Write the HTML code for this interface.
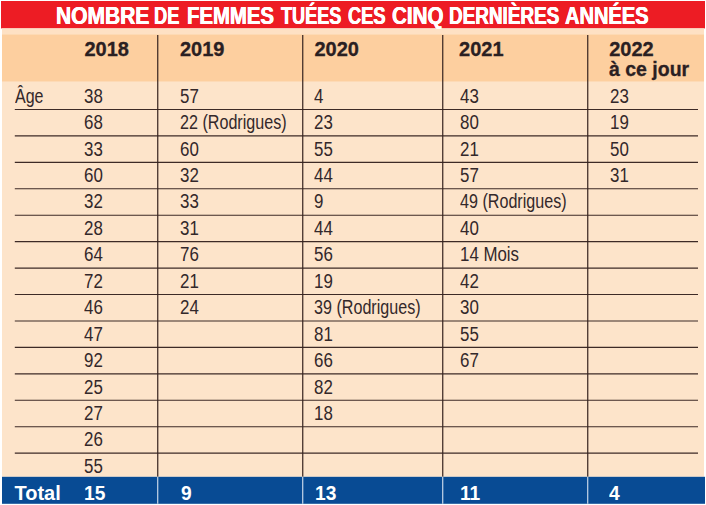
<!DOCTYPE html>
<html><head><meta charset="utf-8"><title>Nombre de femmes tuées</title>
<style>
html,body{margin:0;padding:0;background:#fff;}
body{width:706px;height:505px;position:relative;overflow:hidden;font-family:"Liberation Sans",sans-serif;color:#33282a;}
.a{position:absolute;}
.t{position:absolute;white-space:nowrap;transform-origin:0 0;line-height:1;}
.r{font-size:20px;transform:scaleX(0.8);}
.b{font-weight:bold;}
.hd{-webkit-text-stroke:0.3px #2a2022;color:#2a2022;}
.hl{position:absolute;left:14.5px;width:683.5px;height:1.2px;background:#4a3530;}
.vl{position:absolute;width:1.3px;background:#3a2a28;}
.wl{position:absolute;width:1.1px;background:#e6edf6;}
</style></head><body>

<svg class="a" style="left:0;top:0" width="706" height="505" viewBox="0 0 706 505">
<rect x="1" y="1" width="704" height="27.4" fill="#ed1c24"/>
<rect x="2" y="28.4" width="702" height="6" fill="#fee1c4"/>
<rect x="2" y="34.3" width="702" height="47.5" fill="#fdcf9f"/>
<rect x="2" y="81.8" width="702" height="395" fill="#fde4ca"/>
<rect x="2" y="476.8" width="703" height="27" fill="#084b94"/>
<line x1="14.8" x2="698" y1="109.45" y2="109.45" stroke="#3d2a26" stroke-width="1.15"/>
<line x1="14.8" x2="698" y1="135.89" y2="135.89" stroke="#3d2a26" stroke-width="1.15"/>
<line x1="14.8" x2="698" y1="162.33" y2="162.33" stroke="#3d2a26" stroke-width="1.15"/>
<line x1="14.8" x2="698" y1="188.77" y2="188.77" stroke="#3d2a26" stroke-width="1.15"/>
<line x1="14.8" x2="698" y1="215.21" y2="215.21" stroke="#3d2a26" stroke-width="1.15"/>
<line x1="14.8" x2="698" y1="241.65" y2="241.65" stroke="#3d2a26" stroke-width="1.15"/>
<line x1="14.8" x2="698" y1="268.09" y2="268.09" stroke="#3d2a26" stroke-width="1.15"/>
<line x1="14.8" x2="698" y1="294.53" y2="294.53" stroke="#3d2a26" stroke-width="1.15"/>
<line x1="14.8" x2="698" y1="320.97" y2="320.97" stroke="#3d2a26" stroke-width="1.15"/>
<line x1="14.8" x2="698" y1="347.41" y2="347.41" stroke="#3d2a26" stroke-width="1.15"/>
<line x1="14.8" x2="698" y1="373.85" y2="373.85" stroke="#3d2a26" stroke-width="1.15"/>
<line x1="14.8" x2="698" y1="400.29" y2="400.29" stroke="#3d2a26" stroke-width="1.15"/>
<line x1="14.8" x2="698" y1="426.73" y2="426.73" stroke="#3d2a26" stroke-width="1.15"/>
<line x1="14.8" x2="698" y1="453.17" y2="453.17" stroke="#3d2a26" stroke-width="1.15"/>
<line x1="157.75" x2="157.75" y1="35" y2="476.8" stroke="#35231f" stroke-width="1.2"/>
<line x1="157.75" x2="157.75" y1="476.8" y2="503.8" stroke="#e3ebf5" stroke-width="1.05"/>
<line x1="302.75" x2="302.75" y1="35" y2="476.8" stroke="#35231f" stroke-width="1.2"/>
<line x1="302.75" x2="302.75" y1="476.8" y2="503.8" stroke="#e3ebf5" stroke-width="1.05"/>
<line x1="442.75" x2="442.75" y1="35" y2="476.8" stroke="#35231f" stroke-width="1.2"/>
<line x1="442.75" x2="442.75" y1="476.8" y2="503.8" stroke="#e3ebf5" stroke-width="1.05"/>
<line x1="587.75" x2="587.75" y1="35" y2="476.8" stroke="#35231f" stroke-width="1.2"/>
<line x1="587.75" x2="587.75" y1="476.8" y2="503.8" stroke="#e3ebf5" stroke-width="1.05"/>
</svg>
<div class="t b" style="left:56.49px;top:4.1px;font-size:24px;color:#fff;text-shadow:0.4px 0 0 #fff,-0.4px 0 0 #fff;transform:scaleX(0.8748);">NOMBRE</div>
<div class="t b" style="left:154.16px;top:4.1px;font-size:24px;color:#fff;text-shadow:0.4px 0 0 #fff,-0.4px 0 0 #fff;transform:scaleX(0.7613);">DE</div>
<div class="t b" style="left:186.93px;top:4.1px;font-size:24px;color:#fff;text-shadow:0.4px 0 0 #fff,-0.4px 0 0 #fff;transform:scaleX(0.8469);">FEMMES</div>
<div class="t b" style="left:281.41px;top:4.1px;font-size:24px;color:#fff;text-shadow:0.4px 0 0 #fff,-0.4px 0 0 #fff;transform:scaleX(0.7543);">TUÉES</div>
<div class="t b" style="left:348.24px;top:4.1px;font-size:24px;color:#fff;text-shadow:0.4px 0 0 #fff,-0.4px 0 0 #fff;transform:scaleX(0.7598);">CES</div>
<div class="t b" style="left:391.74px;top:4.1px;font-size:24px;color:#fff;text-shadow:0.4px 0 0 #fff,-0.4px 0 0 #fff;transform:scaleX(0.8586);">CINQ</div>
<div class="t b" style="left:449.32px;top:4.1px;font-size:24px;color:#fff;text-shadow:0.4px 0 0 #fff,-0.4px 0 0 #fff;transform:scaleX(0.7876);">DERNIÈRES</div>
<div class="t b" style="left:565.47px;top:4.1px;font-size:24px;color:#fff;text-shadow:0.4px 0 0 #fff,-0.4px 0 0 #fff;transform:scaleX(0.8356);">ANNÉES</div>
<div class="t b hd" style="left:84.4px;top:39.25px;font-size:20px;transform:scaleX(1.0);">2018</div>
<div class="t b hd" style="left:180.0px;top:39.25px;font-size:20px;transform:scaleX(1.0);">2019</div>
<div class="t b hd" style="left:314.4px;top:39.25px;font-size:20px;transform:scaleX(1.0);">2020</div>
<div class="t b hd" style="left:459.1px;top:39.25px;font-size:20px;transform:scaleX(1.0);">2021</div>
<div class="t b hd" style="left:609.2px;top:39.25px;font-size:20px;transform:scaleX(1.0);">2022</div>
<div class="t b hd" style="left:609.2px;top:59px;font-size:20px;transform:scaleX(0.974);">à ce jour</div>
<div class="t r" style="left:15px;top:85.7px;">Âge</div>
<div class="t r" style="left:84.1px;top:85.7px;transform:scaleX(0.845)">38</div>
<div class="t r" style="left:180.3px;top:85.7px;transform:scaleX(0.845)">57</div>
<div class="t r" style="left:314.3px;top:85.7px;transform:scaleX(0.845)">4</div>
<div class="t r" style="left:459.8px;top:85.7px;transform:scaleX(0.845)">43</div>
<div class="t r" style="left:610.0px;top:85.7px;transform:scaleX(0.845)">23</div>
<div class="t r" style="left:84.1px;top:112.1px;transform:scaleX(0.845)">68</div>
<div class="t r" style="left:180.3px;top:112.1px;transform:scaleX(0.806)">22 (Rodrigues)</div>
<div class="t r" style="left:314.3px;top:112.1px;transform:scaleX(0.845)">23</div>
<div class="t r" style="left:459.8px;top:112.1px;transform:scaleX(0.845)">80</div>
<div class="t r" style="left:610.0px;top:112.1px;transform:scaleX(0.845)">19</div>
<div class="t r" style="left:84.1px;top:138.5px;transform:scaleX(0.845)">33</div>
<div class="t r" style="left:180.3px;top:138.5px;transform:scaleX(0.845)">60</div>
<div class="t r" style="left:314.3px;top:138.5px;transform:scaleX(0.845)">55</div>
<div class="t r" style="left:459.8px;top:138.5px;transform:scaleX(0.845)">21</div>
<div class="t r" style="left:610.0px;top:138.5px;transform:scaleX(0.845)">50</div>
<div class="t r" style="left:84.1px;top:165.0px;transform:scaleX(0.845)">60</div>
<div class="t r" style="left:180.3px;top:165.0px;transform:scaleX(0.845)">32</div>
<div class="t r" style="left:314.3px;top:165.0px;transform:scaleX(0.845)">44</div>
<div class="t r" style="left:459.8px;top:165.0px;transform:scaleX(0.845)">57</div>
<div class="t r" style="left:610.0px;top:165.0px;transform:scaleX(0.845)">31</div>
<div class="t r" style="left:84.1px;top:191.4px;transform:scaleX(0.845)">32</div>
<div class="t r" style="left:180.3px;top:191.4px;transform:scaleX(0.845)">33</div>
<div class="t r" style="left:314.3px;top:191.4px;transform:scaleX(0.845)">9</div>
<div class="t r" style="left:459.8px;top:191.4px;transform:scaleX(0.806)">49 (Rodrigues)</div>
<div class="t r" style="left:84.1px;top:217.9px;transform:scaleX(0.845)">28</div>
<div class="t r" style="left:180.3px;top:217.9px;transform:scaleX(0.845)">31</div>
<div class="t r" style="left:314.3px;top:217.9px;transform:scaleX(0.845)">44</div>
<div class="t r" style="left:459.8px;top:217.9px;transform:scaleX(0.845)">40</div>
<div class="t r" style="left:84.1px;top:244.3px;transform:scaleX(0.845)">64</div>
<div class="t r" style="left:180.3px;top:244.3px;transform:scaleX(0.845)">76</div>
<div class="t r" style="left:314.3px;top:244.3px;transform:scaleX(0.845)">56</div>
<div class="t r" style="left:459.8px;top:244.3px;transform:scaleX(0.843)">14 Mois</div>
<div class="t r" style="left:84.1px;top:270.7px;transform:scaleX(0.845)">72</div>
<div class="t r" style="left:180.3px;top:270.7px;transform:scaleX(0.845)">21</div>
<div class="t r" style="left:314.3px;top:270.7px;transform:scaleX(0.845)">19</div>
<div class="t r" style="left:459.8px;top:270.7px;transform:scaleX(0.845)">42</div>
<div class="t r" style="left:84.1px;top:297.2px;transform:scaleX(0.845)">46</div>
<div class="t r" style="left:180.3px;top:297.2px;transform:scaleX(0.845)">24</div>
<div class="t r" style="left:314.3px;top:297.2px;transform:scaleX(0.806)">39 (Rodrigues)</div>
<div class="t r" style="left:459.8px;top:297.2px;transform:scaleX(0.845)">30</div>
<div class="t r" style="left:84.1px;top:323.6px;transform:scaleX(0.845)">47</div>
<div class="t r" style="left:314.3px;top:323.6px;transform:scaleX(0.845)">81</div>
<div class="t r" style="left:459.8px;top:323.6px;transform:scaleX(0.845)">55</div>
<div class="t r" style="left:84.1px;top:350.1px;transform:scaleX(0.845)">92</div>
<div class="t r" style="left:314.3px;top:350.1px;transform:scaleX(0.845)">66</div>
<div class="t r" style="left:459.8px;top:350.1px;transform:scaleX(0.845)">67</div>
<div class="t r" style="left:84.1px;top:376.5px;transform:scaleX(0.845)">25</div>
<div class="t r" style="left:314.3px;top:376.5px;transform:scaleX(0.845)">82</div>
<div class="t r" style="left:84.1px;top:402.9px;transform:scaleX(0.845)">27</div>
<div class="t r" style="left:314.3px;top:402.9px;transform:scaleX(0.845)">18</div>
<div class="t r" style="left:84.1px;top:429.4px;transform:scaleX(0.845)">26</div>
<div class="t r" style="left:84.1px;top:455.8px;transform:scaleX(0.845)">55</div>
<div class="t b" style="left:14.5px;top:483.3px;font-size:20px;color:#fff;transform:scaleX(1.0);">Total</div>
<div class="t b" style="left:84.2px;top:483.3px;font-size:20px;color:#fff;transform:scaleX(0.96);">15</div>
<div class="t b" style="left:180.5px;top:483.3px;font-size:20px;color:#fff;transform:scaleX(0.96);">9</div>
<div class="t b" style="left:314.5px;top:483.3px;font-size:20px;color:#fff;transform:scaleX(0.96);">13</div>
<div class="t b" style="left:459.9px;top:483.3px;font-size:20px;color:#fff;transform:scaleX(0.96);">11</div>
<div class="t b" style="left:609.0px;top:483.3px;font-size:20px;color:#fff;transform:scaleX(0.96);">4</div>
</body></html>
